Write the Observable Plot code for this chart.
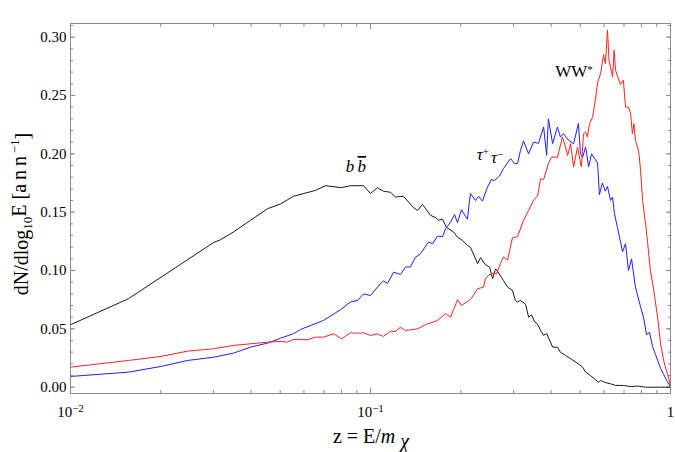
<!DOCTYPE html>
<html>
<head>
<meta charset="utf-8">
<script src="https://cdn.jsdelivr.net/npm/d3@7"></script>
<script src="https://cdn.jsdelivr.net/npm/@observablehq/plot@0.6"></script>
<style>
  html, body { margin: 0; padding: 0; background: #fff; }
  #chart svg { display: block; }
</style>
</head>
<body>
<div id="chart"></div>
<script>
// ---- data: log10(z) and dN/dlog10E for each channel ----
const bbLogZ = [-2.000,-1.807,-1.523,-1.500,-1.457,-1.400,-1.343,-1.300,-1.257,-1.183,-1.150,-1.097,-1.067,-1.023,-1.000,-0.977,-0.957,-0.933,-0.917,-0.890,-0.857,-0.843,-0.827,-0.800,-0.783,-0.773,-0.760,-0.747,-0.723,-0.710,-0.693,-0.677,-0.667,-0.643,-0.633,-0.617,-0.603,-0.593,-0.583,-0.577,-0.557,-0.543,-0.527,-0.517,-0.510,-0.500,-0.483,-0.473,-0.463,-0.453,-0.443,-0.433,-0.423,-0.413,-0.400,-0.393,-0.377,-0.367,-0.350,-0.333,-0.307,-0.293,-0.283,-0.267,-0.240,-0.233,-0.217,-0.200,-0.183,-0.157,-0.133,-0.110,-0.083,0.000];
const bbY    = [0.0535,0.0758,0.124,0.1264,0.133,0.143,0.153,0.157,0.1636,0.1687,0.1727,0.171,0.1727,0.1727,0.166,0.171,0.168,0.167,0.163,0.1636,0.154,0.1515,0.1567,0.1473,0.1453,0.143,0.144,0.137,0.133,0.1286,0.1258,0.1215,0.120,0.106,0.111,0.105,0.103,0.093,0.1015,0.0995,0.0915,0.0858,0.083,0.0744,0.073,0.0744,0.071,0.060,0.062,0.056,0.054,0.0486,0.0445,0.046,0.0386,0.0343,0.0343,0.030,0.0272,0.0244,0.020,0.0172,0.013,0.010,0.0043,0.0057,0.004,0.0029,0.0015,0.0015,0.0005,0.001,0.0,0.0];

const tauLogZ = [-2.000,-1.807,-1.700,-1.610,-1.523,-1.457,-1.400,-1.340,-1.300,-1.257,-1.233,-1.157,-1.100,-1.067,-1.043,-1.023,-1.000,-0.967,-0.957,-0.943,-0.923,-0.900,-0.883,-0.867,-0.850,-0.833,-0.807,-0.793,-0.777,-0.760,-0.750,-0.733,-0.720,-0.710,-0.697,-0.677,-0.667,-0.650,-0.640,-0.627,-0.610,-0.597,-0.587,-0.570,-0.557,-0.533,-0.520,-0.510,-0.500,-0.490,-0.473,-0.457,-0.440,-0.423,-0.413,-0.407,-0.393,-0.377,-0.367,-0.357,-0.340,-0.323,-0.307,-0.300,-0.293,-0.283,-0.273,-0.263,-0.253,-0.243,-0.237,-0.227,-0.217,-0.210,-0.200,-0.193,-0.187,-0.177,-0.167,-0.160,-0.150,-0.140,-0.130,-0.117,-0.100,-0.090,-0.080,-0.070,-0.060,-0.050,-0.033,-0.023,-0.013,0.000];
const tauY    = [0.0092,0.0129,0.0177,0.0229,0.0257,0.0292,0.0343,0.038,0.042,0.0458,0.0495,0.0572,0.0664,0.073,0.0744,0.080,0.0786,0.0887,0.091,0.089,0.0986,0.0966,0.103,0.103,0.1115,0.1144,0.1244,0.123,0.1295,0.129,0.1358,0.1415,0.148,0.141,0.152,0.144,0.166,0.160,0.1636,0.1595,0.1715,0.178,0.177,0.181,0.1873,0.196,0.1916,0.1916,0.203,0.211,0.200,0.210,0.209,0.223,0.1987,0.230,0.2087,0.223,0.2144,0.2173,0.2116,0.2087,0.226,0.200,0.197,0.206,0.189,0.200,0.196,0.192,0.165,0.175,0.168,0.172,0.160,0.163,0.149,0.137,0.125,0.116,0.123,0.100,0.110,0.086,0.069,0.060,0.045,0.047,0.035,0.028,0.016,0.011,0.006,0.000];

const wwLogZ = [-2.000,-1.807,-1.700,-1.610,-1.523,-1.457,-1.400,-1.343,-1.300,-1.277,-1.257,-1.210,-1.183,-1.157,-1.123,-1.097,-1.067,-1.043,-1.023,-1.000,-0.977,-0.957,-0.933,-0.917,-0.900,-0.883,-0.843,-0.810,-0.800,-0.777,-0.750,-0.733,-0.710,-0.697,-0.667,-0.643,-0.623,-0.617,-0.607,-0.590,-0.580,-0.567,-0.557,-0.543,-0.527,-0.510,-0.490,-0.473,-0.457,-0.443,-0.433,-0.423,-0.407,-0.397,-0.377,-0.360,-0.350,-0.343,-0.333,-0.323,-0.310,-0.297,-0.290,-0.283,-0.277,-0.270,-0.260,-0.250,-0.243,-0.233,-0.223,-0.217,-0.210,-0.205,-0.200,-0.193,-0.188,-0.183,-0.177,-0.167,-0.157,-0.150,-0.140,-0.133,-0.127,-0.122,-0.117,-0.110,-0.105,-0.100,-0.093,-0.083,-0.077,-0.067,-0.057,-0.043,-0.033,-0.023,-0.017,-0.010,0.000];
const wwY    = [0.0172,0.0229,0.0263,0.0309,0.0329,0.0358,0.0372,0.0386,0.0392,0.0386,0.0409,0.0406,0.0429,0.0429,0.0458,0.0415,0.0466,0.0463,0.0466,0.0443,0.0458,0.0435,0.048,0.0478,0.0515,0.0486,0.050,0.0544,0.055,0.0572,0.063,0.060,0.075,0.070,0.075,0.0844,0.0858,0.093,0.0958,0.098,0.097,0.106,0.1115,0.109,0.128,0.129,0.143,0.1515,0.160,0.164,0.1787,0.178,0.1916,0.1973,0.197,0.2145,0.2058,0.1985,0.2087,0.1887,0.2058,0.1887,0.2173,0.2187,0.2144,0.226,0.231,0.247,0.261,0.2688,0.285,0.2774,0.306,0.2802,0.2745,0.2659,0.2888,0.2716,0.2666,0.2595,0.263,0.240,0.240,0.2345,0.2173,0.2259,0.2116,0.2058,0.200,0.186,0.160,0.140,0.1258,0.100,0.085,0.060,0.0372,0.0229,0.0172,0.0114,0.0015];

// axis ticks
const yMajorTicks = [0.00, 0.05, 0.10, 0.15, 0.20, 0.25, 0.30];
const yMinorTicks = d3.range(0, 32).map(i => i / 100);
const xMajorTicks = [0.01, 0.1, 1];
const xMinorTicks = [0.02,0.03,0.04,0.05,0.06,0.07,0.08,0.09,0.2,0.3,0.4,0.5,0.6,0.7,0.8,0.9];
const xTickBase = ["10", "10", "1"];
const xTickExp  = ["\u22122", "\u22121", ""];

// curve labels
const labelKey  = ["bb", "tau", "ww"];
const labelLogZ = [-1.047, -0.600, -0.320];
const labelY    = [0.184, 0.194, 0.265];

const SERIF = "'Liberation Serif', 'Times New Roman', serif";
const FRAME = "#8a8a8a";

const toRows = (lz, ys) => lz.map((l, i) => ({z: Math.pow(10, l), v: ys[i]}));
const bbData = toRows(bbLogZ, bbY);
const tauData = toRows(tauLogZ, tauY);
const wwData = toRows(wwLogZ, wwY);

const tickOpts = (anchor, size) => ({anchor, tickSize: size, fill: "none", stroke: FRAME, label: null});

const chart = Plot.plot({
  width: 675,
  height: 452,
  marginLeft: 70,
  marginRight: 5,
  marginTop: 23,
  marginBottom: 59,
  style: {fontFamily: SERIF, fontSize: "15px", background: "#fff", color: "#000", overflow: "visible"},
  x: {type: "log", domain: [0.01, 1]},
  y: {domain: [-0.0054, 0.3117]},
  marks: [
    Plot.axisY(yMajorTicks, {anchor: "left", tickSize: 0, tickPadding: 4, tickFormat: d3.format(".2f"), label: null, fontFamily: SERIF}),
    Plot.axisY(yMajorTicks, tickOpts("left", -5)),
    Plot.axisY(yMinorTicks, tickOpts("left", -3)),
    Plot.axisY(yMajorTicks, tickOpts("right", -5)),
    Plot.axisY(yMinorTicks, tickOpts("right", -3)),
    Plot.axisX(xMajorTicks, {anchor: "bottom", tickSize: 0, tickPadding: 13, tickFormat: d => String(d), label: null, fontFamily: SERIF}),
    Plot.axisX(xMajorTicks, tickOpts("bottom", -5)),
    Plot.axisX(xMinorTicks, tickOpts("bottom", -3)),
    Plot.axisX(xMajorTicks, tickOpts("top", -5)),
    Plot.axisX(xMinorTicks, tickOpts("top", -3)),
    Plot.line(bbData, {x: "z", y: "v", stroke: "#1a1a1a", strokeWidth: 1}),
    Plot.line(tauData, {x: "z", y: "v", stroke: "#1f1fff", strokeWidth: 1}),
    Plot.line(wwData, {x: "z", y: "v", stroke: "#ff2020", strokeWidth: 1}),
    Plot.frame({stroke: FRAME})
  ]
});
document.getElementById("chart").appendChild(chart);

const svg = d3.select(chart);
// superscript exponents on x tick labels
svg.selectAll('g[aria-label="x-axis tick label"] text').each(function(_, i) {
  const t = d3.select(this);
  t.text(null);
  t.append("tspan").text(xTickBase[i]);
  if (xTickExp[i]) t.append("tspan").attr("dy", "-0.5em").attr("font-size", "11px").text(xTickExp[i]);
});

const X = chart.scale("x"), Y = chart.scale("y");
const g = svg.append("g").style("font-family", SERIF).attr("fill", "#000");

labelKey.forEach((k, i) => {
  const t = g.append("text")
    .attr("x", X.apply(Math.pow(10, labelLogZ[i])))
    .attr("y", Y.apply(labelY[i]))
    .attr("text-anchor", "middle")
    .attr("font-size", "17px");
  if (k === "bb") {
    t.attr("font-style", "italic");
    t.append("tspan").text("b\u2009");
    t.append("tspan").style("text-decoration", "overline").text("b");
  } else if (k === "tau") {
    t.attr("font-style", "italic");
    t.append("tspan").text("\u03c4");
    t.append("tspan").attr("dy", "-0.45em").attr("font-size", "11px").attr("font-style", "normal").text("+");
    t.append("tspan").attr("dy", "0.45em").attr("dx", "2").text("\u03c4");
    t.append("tspan").attr("dy", "-0.45em").attr("font-size", "11px").attr("font-style", "normal").text("\u2212");
  } else {
    t.append("tspan").text("WW");
    t.append("tspan").attr("dy", "-0.4em").attr("font-size", "11px").text("*");
  }
});

// y axis title
const yt = g.append("text")
  .attr("transform", "translate(28,214) rotate(-90)")
  .attr("text-anchor", "middle")
  .attr("font-size", "20px");
yt.append("tspan").text("dN/dlog");
yt.append("tspan").attr("dy", "0.3em").attr("font-size", "13px").text("10");
yt.append("tspan").attr("dy", "-0.3em").text("E [a\u2009n\u2009n");
yt.append("tspan").attr("dy", "-0.5em").attr("font-size", "13px").text("\u2009\u22121");
yt.append("tspan").attr("dy", "0.5em").text("]");

// x axis title
const xt = g.append("text")
  .attr("x", 371).attr("y", 443)
  .attr("text-anchor", "middle")
  .attr("font-size", "20px");
xt.append("tspan").text("z = E/");
xt.append("tspan").attr("font-style", "italic").text("m");
xt.append("tspan").attr("dx", "5").attr("dy", "0.25em").attr("font-style", "italic").text("\u03c7");
</script>
</body>
</html>
